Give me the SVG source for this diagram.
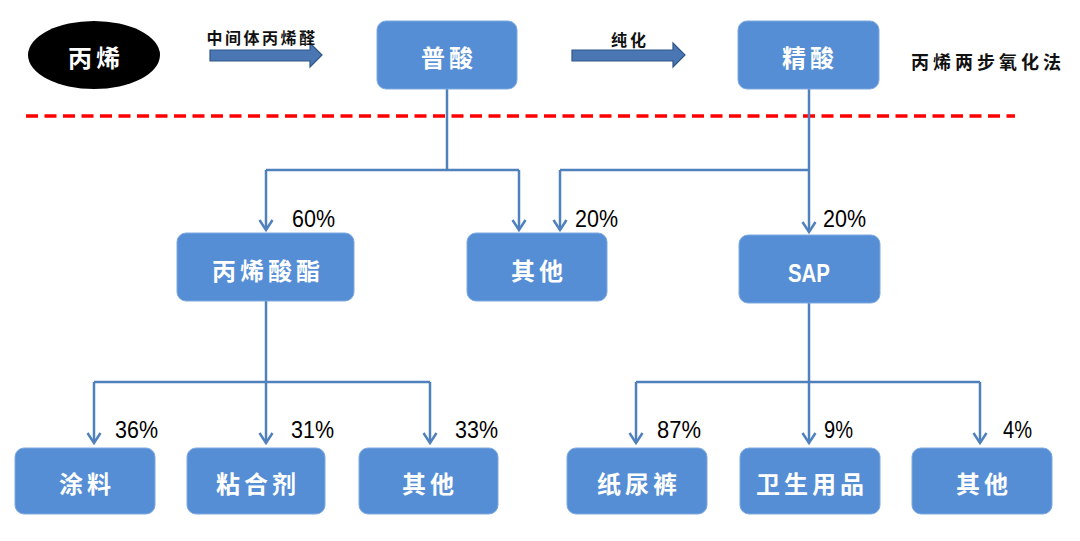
<svg xmlns="http://www.w3.org/2000/svg" width="1080" height="541" viewBox="0 0 1080 541">
<style>
.box{fill:#558ed5;stroke:#7ea9e0;stroke-width:1}
.bt{font-family:"Noto Sans CJK SC",sans-serif;font-size:24px;font-weight:bold;fill:#ffffff;text-anchor:middle;letter-spacing:4px}
.pct{font-family:"Liberation Sans","Noto Sans",sans-serif;font-size:23px;fill:#000000}
.lbl{font-family:"Noto Sans CJK SC",sans-serif;font-weight:bold;fill:#111111;text-anchor:middle}
.con{fill:none;stroke:#4f81bd;stroke-width:2.5}
.blk{fill:#4a77b4;stroke:#2f5686;stroke-width:1.2}
</style>
<defs>
<marker id="ah" markerUnits="userSpaceOnUse" viewBox="-12 -8 14 16" refX="0" refY="0" markerWidth="14" markerHeight="16" orient="auto" overflow="visible">
<path d="M-10,-6.5 L0,0 L-10,6.5" fill="none" stroke="#4f81bd" stroke-width="2.5"/>
</marker>
</defs>
<rect width="1080" height="541" fill="#ffffff"/>

<g id="title">
<text class="lbl" x="988" y="69" font-size="18" letter-spacing="4">丙烯两步氧化法</text>
</g>

<g id="divider">
<line x1="26" y1="116" x2="1015" y2="116" stroke="#ff0000" stroke-width="3.5" stroke-dasharray="12,6.5"/>
</g>

<g id="connectors">
<polygon class="blk" points="210,50 310,50 310,43 322,55 310,67 310,61 210,61"/>
<text class="lbl" x="262" y="44" font-size="16" letter-spacing="2.5">中间体丙烯醛</text>
<polygon class="blk" points="572,50 673,50 673,43 685,55 673,67 673,61 572,61"/>
<text class="lbl" x="630" y="46" font-size="16" letter-spacing="3">纯化</text>

<path class="con" d="M447,89 V170"/>
<path class="con" d="M266,170 H519"/>
<path class="con" d="M266,170 V230" marker-end="url(#ah)"/>
<path class="con" d="M519,170 V230" marker-end="url(#ah)"/>

<path class="con" d="M809,89 V232" marker-end="url(#ah)"/>
<path class="con" d="M560,170 H809"/>
<path class="con" d="M560,170 V230" marker-end="url(#ah)"/>

<path class="con" d="M266,301 V382"/>
<path class="con" d="M94,382 H430"/>
<path class="con" d="M94,382 V443" marker-end="url(#ah)"/>
<path class="con" d="M266,382 V443" marker-end="url(#ah)"/>
<path class="con" d="M430,382 V443" marker-end="url(#ah)"/>

<path class="con" d="M809,303 V382"/>
<path class="con" d="M636,382 H980"/>
<path class="con" d="M636,382 V443" marker-end="url(#ah)"/>
<path class="con" d="M809,382 V443" marker-end="url(#ah)"/>
<path class="con" d="M980,382 V443" marker-end="url(#ah)"/>

<text class="pct" x="292" y="227" textLength="43" lengthAdjust="spacingAndGlyphs">60%</text>
<text class="pct" x="575" y="227" textLength="43" lengthAdjust="spacingAndGlyphs">20%</text>
<text class="pct" x="823" y="227" textLength="43" lengthAdjust="spacingAndGlyphs">20%</text>
<text class="pct" x="115" y="438" textLength="43" lengthAdjust="spacingAndGlyphs">36%</text>
<text class="pct" x="291" y="438" textLength="43" lengthAdjust="spacingAndGlyphs">31%</text>
<text class="pct" x="455" y="438" textLength="43" lengthAdjust="spacingAndGlyphs">33%</text>
<text class="pct" x="657" y="438" textLength="44" lengthAdjust="spacingAndGlyphs">87%</text>
<text class="pct" x="824" y="438" textLength="29" lengthAdjust="spacingAndGlyphs">9%</text>
<text class="pct" x="1003" y="438" textLength="29" lengthAdjust="spacingAndGlyphs">4%</text>
</g>

<g id="n-propylene">
<ellipse cx="94" cy="55" rx="66" ry="34" fill="#000000"/>
<text class="bt" x="96" y="67">丙烯</text>
</g>

<g id="n-crude">
<rect class="box" x="377" y="21" width="140" height="68" rx="9"/>
<text class="bt" x="449" y="67">普酸</text>
</g>

<g id="n-pure">
<rect class="box" x="738" y="21" width="141" height="68" rx="9"/>
<text class="bt" x="810" y="67">精酸</text>
</g>

<g id="n-acrylate">
<rect class="box" x="177" y="233" width="177" height="68" rx="9"/>
<text class="bt" x="268" y="280">丙烯酸酯</text>
</g>

<g id="n-other1">
<rect class="box" x="467" y="233" width="140" height="68" rx="9"/>
<text class="bt" x="539" y="280">其他</text>
</g>

<g id="n-sap">
<rect class="box" x="739" y="235" width="141" height="68" rx="9"/>
<text x="809" y="282" font-family="Liberation Sans,sans-serif" font-size="26" font-weight="bold" fill="#ffffff" text-anchor="middle" textLength="42" lengthAdjust="spacingAndGlyphs">SAP</text>
</g>

<g id="n-coating">
<rect class="box" x="15" y="448" width="140" height="66" rx="9"/>
<text class="bt" x="87" y="493">涂料</text>
</g>

<g id="n-adhesive">
<rect class="box" x="187" y="448" width="138" height="66" rx="9"/>
<text class="bt" x="258" y="493">粘合剂</text>
</g>

<g id="n-other2">
<rect class="box" x="359" y="448" width="139" height="66" rx="9"/>
<text class="bt" x="430" y="493">其他</text>
</g>

<g id="n-diaper">
<rect class="box" x="567" y="448" width="140" height="66" rx="9"/>
<text class="bt" x="639" y="493">纸尿裤</text>
</g>

<g id="n-hygiene">
<rect class="box" x="740" y="448" width="140" height="66" rx="9"/>
<text class="bt" x="812" y="493">卫生用品</text>
</g>

<g id="n-other3">
<rect class="box" x="912" y="448" width="140" height="66" rx="9"/>
<text class="bt" x="984" y="493">其他</text>
</g>
</svg>
